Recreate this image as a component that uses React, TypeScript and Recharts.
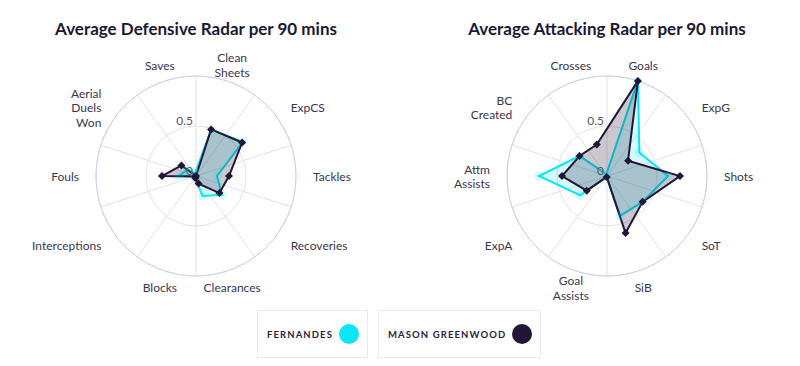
import { RadarChart, Radar, PolarGrid, PolarAngleAxis, PolarRadiusAxis } from "recharts";

const defCategories = [
  "Clean\nSheets",
  "ExpCS",
  "Tackles",
  "Recoveries",
  "Clearances",
  "Blocks",
  "Interceptions",
  "Fouls",
  "Aerial\nDuels\nWon",
  "Saves",
];
const fernandesDef = [0.49, 0.58, 0.21, 0.32, 0.21, 0.02, 0.01, 0.17, 0.11, 0.03];
const greenwoodDef = [0.49, 0.57, 0.33, 0.29, 0.08, 0.02, 0.01, 0.34, 0.18, 0];

const attCategories = [
  "Goals",
  "ExpG",
  "Shots",
  "SoT",
  "SiB",
  "Goal\nAssists",
  "ExpA",
  "Attm\nAssists",
  "BC\nCreated",
  "Crosses",
];
const fernandesAtt = [1.0, 0.4, 0.61, 0.44, 0.42, 0.01, 0.33, 0.68, 0.34, 0.02];
const greenwoodAtt = [1.0, 0.26, 0.73, 0.44, 0.6, 0.01, 0.25, 0.45, 0.34, 0.33];

const radiusTicks = [0, 0.5, 1];
const playerNames = ["Fernandes", "Mason Greenwood"];
const playerColors = ["#0ae6f5", "#231535"];

const FONT = "Lato, 'Open Sans', sans-serif";
const R = 100;
const START = 72;
const LABEL_R = 117;

const makeAngleTick = (cx: number, cy: number) => (props: any) => {
  const { payload, index } = props;
  const angle = payload.coordinate;
  const rad = (-angle * Math.PI) / 180;
  const x = cx + LABEL_R * Math.cos(rad);
  const y = cy + LABEL_R * Math.sin(rad);
  const c = Math.cos(rad);
  const anchor = Math.abs(c) < 0.5 ? "middle" : c > 0 ? "start" : "end";
  const lines = String(payload.value).split("\n");
  const lh = 14.5;
  return (
    <text
      key={index}
      x={x}
      y={y}
      textAnchor={anchor}
      dominantBaseline="central"
      fontSize={12}
      fontFamily={FONT}
      fill="#3b3551"
    >
      {lines.map((l, i) => (
        <tspan key={i} x={x} dy={i === 0 ? -((lines.length - 1) / 2) * lh : lh}>
          {l}
        </tspan>
      ))}
    </text>
  );
};

const RadiusTick = (props: any) => {
  const { x, y, payload } = props;
  if (payload.value === 1) return <g />;
  return (
    <text x={x - 3} y={y - 1} textAnchor="end" fontSize={12} fontFamily={FONT} fill="#5a5468">
      {payload.value}
    </text>
  );
};

const Diamond = (props: any) => {
  const { cx, cy, index } = props;
  const s = 4;
  return (
    <path
      key={index}
      d={`M${cx},${cy - s}L${cx + s},${cy}L${cx},${cy + s}L${cx - s},${cy}Z`}
      fill={playerColors[1]}
    />
  );
};

const RadarPanel = ({
  title,
  categories,
  a,
  b,
  cx,
  cy,
}: {
  title: string;
  categories: string[];
  a: number[];
  b: number[];
  cx: number;
  cy: number;
}) => {
  const data = categories.map((label, i) => ({ label, p1: a[i], p2: b[i] }));
  const step = 360 / categories.length;
  const spokes = categories.map((_, i) => START + step / 2 - i * step);
  return (
    <div style={{ position: "relative", width: 400, height: 310 }}>
      <div
        style={{
          position: "absolute",
          left: cx - 200,
          top: 18,
          width: 400,
          textAlign: "center",
          fontWeight: 700,
          fontSize: 17,
          color: "#1c1735",
          fontFamily: FONT,
        }}
      >
        {title}
      </div>
      <RadarChart
        width={400}
        height={310}
        data={data}
        cx={cx}
        cy={cy}
        outerRadius={R}
        startAngle={START}
        endAngle={START - 360}
      >
        <PolarGrid gridType="circle" stroke="#e2e2e6" polarAngles={spokes} />
        <PolarGrid gridType="circle" stroke="#cbd1ea" radialLines={false} polarRadius={[R]} />
        <PolarAngleAxis dataKey="label" tick={makeAngleTick(cx, cy)} tickLine={false} axisLine={false} />
        <PolarRadiusAxis
          angle={90}
          domain={[0, 1]}
          ticks={radiusTicks}
          tickCount={3}
          tick={RadiusTick}
          axisLine={false}
          tickLine={false}
        />
        <Radar
          dataKey="p1"
          name={playerNames[0]}
          stroke={playerColors[0]}
          strokeWidth={2}
          fill={playerColors[0]}
          fillOpacity={0.18}
          dot={{ r: 4.5, fill: playerColors[0], stroke: "none" }}
          isAnimationActive={false}
        />
        <Radar
          dataKey="p2"
          name={playerNames[1]}
          stroke={playerColors[1]}
          strokeWidth={2}
          fill={playerColors[1]}
          fillOpacity={0.24}
          dot={Diamond}
          isAnimationActive={false}
        />
      </RadarChart>
    </div>
  );
};

const LegendBox = ({ name, color, left, width }: { name: string; color: string; left: number; width: number }) => (
  <div
    style={{
      position: "absolute",
      left,
      top: 310,
      width,
      height: 48,
      boxSizing: "border-box",
      border: "1px solid #ebebef",
      display: "flex",
      alignItems: "center",
      justifyContent: "space-between",
      padding: "0 8px 0 9px",
      fontFamily: FONT,
    }}
  >
    <span
      style={{
        fontSize: 9.5,
        fontWeight: 700,
        letterSpacing: 1.1,
        textTransform: "uppercase",
        whiteSpace: "nowrap",
        color: "#2a2340",
      }}
    >
      {name}
    </span>
    <span
      style={{
        width: 20,
        height: 20,
        flexShrink: 0,
        borderRadius: 10,
        background: color,
        display: "inline-block",
      }}
    />
  </div>
);

export default function App() {
  return (
    <div
      style={{
        position: "absolute",
        left: 0,
        top: 0,
        width: 800,
        height: 366,
        background: "#fff",
        overflow: "hidden",
      }}
    >
      <div style={{ position: "absolute", left: 0, top: 0 }}>
        <RadarPanel
          title="Average Defensive Radar per 90 mins"
          categories={defCategories}
          a={fernandesDef}
          b={greenwoodDef}
          cx={196}
          cy={176}
        />
      </div>
      <div style={{ position: "absolute", left: 400, top: 0 }}>
        <RadarPanel
          title="Average Attacking Radar per 90 mins"
          categories={attCategories}
          a={fernandesAtt}
          b={greenwoodAtt}
          cx={207}
          cy={176}
        />
      </div>
      <LegendBox name={playerNames[0]} color={playerColors[0]} left={257} width={111} />
      <LegendBox name={playerNames[1]} color={playerColors[1]} left={378} width={163} />
    </div>
  );
}
